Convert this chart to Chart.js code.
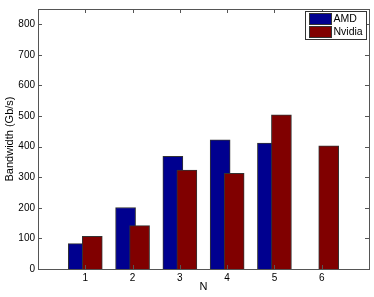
<!DOCTYPE html>
<html>
<head>
<meta charset="utf-8">
<script src="https://cdn.jsdelivr.net/npm/chart.js@4.4.0/dist/chart.umd.min.js"></script>
<style>
  html, body { margin: 0; padding: 0; background: #fff; }
  #wrap { width: 374px; height: 297px; }
</style>
</head>
<body>
<div id="wrap"><canvas id="c" width="374" height="297"></canvas></div>
<script>
// values
const N_VALUES = [1, 2, 3, 4, 5, 6];
const AMD = [83, 201, 368, 422, 412, null];
const NVIDIA = [107, 142, 323, 313, 504, 403];
const Y_TICKS = [0, 100, 200, 300, 400, 500, 600, 700, 800];

const FONT = "'Liberation Sans', Arial, Helvetica, sans-serif";
const AXIS = '#555';
const SHIFT = 0.148;   // half the offset between the two bars of a group

const pts = (vals, dx) => N_VALUES.map((n, i) => ({ x: n + dx, y: vals[i] }));

// MATLAB-ish box, inward ticks and legend
const frame = {
  id: 'frame',
  afterDatasetsDraw(chart) {
    const { ctx, chartArea: a, scales: { x, y } } = chart;
    ctx.save();
    ctx.strokeStyle = AXIS;
    ctx.lineWidth = 1;
    ctx.beginPath();
    x.ticks.forEach(t => {
      const px = Math.round(x.getPixelForValue(t.value)) + 0.5;
      ctx.moveTo(px, a.bottom); ctx.lineTo(px, a.bottom - 4);
      ctx.moveTo(px, a.top); ctx.lineTo(px, a.top + 4);
    });
    y.ticks.forEach(t => {
      const py = Math.round(y.getPixelForValue(t.value)) + 0.5;
      ctx.moveTo(a.left, py); ctx.lineTo(a.left + 4, py);
      ctx.moveTo(a.right, py); ctx.lineTo(a.right - 4, py);
    });
    ctx.stroke();
    ctx.strokeRect(Math.round(a.left) + 0.5, Math.round(a.top) + 0.5,
                   Math.round(a.right - a.left), Math.round(a.bottom - a.top));

    // legend
    const lx = 305.5, ly = 11.5, lw = 61, lh = 28;
    ctx.fillStyle = '#fff';
    ctx.fillRect(lx, ly, lw, lh);
    ctx.strokeStyle = '#333';
    ctx.strokeRect(lx, ly, lw, lh);
    ctx.font = '10.5px ' + FONT;
    ctx.textBaseline = 'middle';
    chart.data.datasets.forEach((ds, i) => {
      const sy = ly + 2 + i * 13;
      ctx.fillStyle = ds.backgroundColor;
      ctx.fillRect(lx + 4, sy, 22, 11);
      ctx.strokeStyle = '#333';
      ctx.strokeRect(lx + 4, sy, 22, 11);
      ctx.fillStyle = '#000';
      ctx.fillText(ds.label, lx + 28, sy + 6);
    });
    ctx.restore();
  }
};

new Chart(document.getElementById('c'), {
  type: 'bar',
  data: {
    datasets: [
      { label: 'AMD', data: pts(AMD, -SHIFT), backgroundColor: '#00008f', order: 2 },
      { label: 'Nvidia', data: pts(NVIDIA, SHIFT), backgroundColor: '#800000', order: 1 }
    ]
  },
  options: {
    responsive: false,
    devicePixelRatio: 1,
    animation: false,
    layout: { padding: { left: 0, right: 5, top: 8, bottom: 0 } },
    datasets: {
      bar: { grouped: false, barThickness: 20, borderWidth: 1, borderColor: '#333' }
    },
    plugins: { legend: { display: false }, tooltip: { enabled: false } },
    scales: {
      x: {
        type: 'linear', min: 0, max: 7, offset: false,
        afterBuildTicks: s => { s.ticks = N_VALUES.map(v => ({ value: v })); },
        afterFit: s => { s.height = 28; },
        grid: { display: false, drawTicks: false },
        border: { display: false },
        ticks: { color: '#000', padding: 3, font: { family: FONT, size: 10 } },
        title: { display: true, text: 'N', color: '#000', padding: { top: 0, bottom: 3 },
                 font: { family: FONT, size: 11 } }
      },
      y: {
        min: 0, max: 850,
        afterBuildTicks: s => { s.ticks = Y_TICKS.map(v => ({ value: v })); },
        afterFit: s => { s.width = 38; },
        grid: { display: false, drawTicks: false },
        border: { display: false },
        ticks: { color: '#000', padding: 3, font: { family: FONT, size: 10 } },
        title: { display: true, text: 'Bandwidth (Gb/s)', color: '#000', padding: { top: 3, bottom: 0 },
                 font: { family: FONT, size: 11 } }
      }
    }
  },
  plugins: [frame]
});
</script>
</body>
</html>
